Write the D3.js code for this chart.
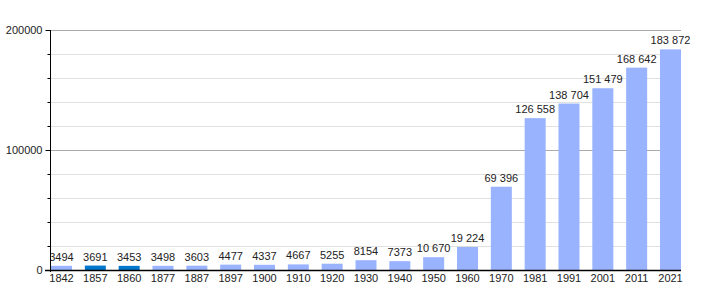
<!DOCTYPE html>
<html><head><meta charset="utf-8">
<script src="https://cdn.jsdelivr.net/npm/d3@7"></script>
<style>body{margin:0;background:#fff}svg{display:block}text{font-family:"Liberation Sans",Arial,sans-serif;font-size:11px;fill:#222}</style>
</head><body>
<script>
const years = ["1842","1857","1860","1877","1887","1897","1900","1910","1920","1930","1940","1950","1960","1970","1981","1991","2001","2011","2021"];
const population = [3494,3691,3453,3498,3603,4477,4337,4667,5255,8154,7373,10670,19224,69396,126558,138704,151479,168642,183872];
const highlighted = ["1857","1860"];
const yMajorTicks = [0,100000,200000];
const yMinorTicks = [20000,40000,60000,80000,120000,140000,160000,180000];

const W=710,H=300;
const m={left:50,right:29,top:30,bottom:30};
const svg=d3.select("body").append("svg").attr("width",W).attr("height",H);
const x=d3.scaleBand().domain(years).range([m.left+1,W-m.right]).paddingInner(0.379).paddingOuter(0);
const y=d3.scaleLinear().domain([0,200000]).range([H-m.bottom,m.top]);

// gridlines
svg.append("g").selectAll("line").data(yMinorTicks).join("line")
 .attr("x1",m.left).attr("x2",W-m.right).attr("y1",d=>y(d)+0.5).attr("y2",d=>y(d)+0.5)
 .attr("stroke","#e0e0e0");
svg.append("g").selectAll("line").data(yMajorTicks.filter(d=>d>0)).join("line")
 .attr("x1",m.left).attr("x2",W-m.right).attr("y1",d=>y(d)+0.5).attr("y2",d=>y(d)+0.5)
 .attr("stroke","#aaaaaa");

// bars
svg.append("g").selectAll("rect").data(years).join("rect")
 .attr("x",d=>x(d)).attr("width",x.bandwidth())
 .attr("y",(d,i)=>y(population[i])).attr("height",(d,i)=>y(0)-y(population[i]))
 .attr("fill",d=>highlighted.includes(d)?"#0077cc":"#99b3ff");

// value labels
const fmt=v=>v<10000?String(v):d3.format(",")(v).replace(/,/g," ");
svg.append("defs").append("clipPath").attr("id","clip").append("rect")
 .attr("x",m.left+1).attr("y",0).attr("width",W).attr("height",H);
svg.append("g").attr("clip-path","url(#clip)").selectAll("text").data(years).join("text")
 .attr("x",d=>x(d)+x.bandwidth()/2).attr("y",(d,i)=>y(population[i])-5)
 .attr("text-anchor","middle").text((d,i)=>fmt(population[i]));

// y axis
const ya=svg.append("g").attr("transform",`translate(${m.left+0.5},0)`);
ya.call(d3.axisLeft(y).tickValues(yMajorTicks).tickSize(5).tickPadding(3).tickFormat(d3.format("d")));
ya.append("g").call(d3.axisLeft(y).tickValues(yMinorTicks).tickSize(3).tickFormat(""));
ya.selectAll(".domain").remove();
ya.selectAll("line").attr("stroke","#000");
ya.selectAll("text").attr("fill","#222").style("font-size","11px").style("font-family",'"Liberation Sans",Arial,sans-serif');
ya.append("line").attr("x1",0).attr("x2",0).attr("y1",m.top).attr("y2",H-m.bottom+2).attr("stroke","#000");

// x axis
const xa=svg.append("g").attr("transform",`translate(0,${H-m.bottom+0.5})`);
xa.call(d3.axisBottom(x).tickSize(0).tickPadding(4));
xa.select(".domain").remove();
xa.append("line").attr("x1",m.left-5).attr("x2",W-m.right).attr("stroke","#000").attr("stroke-width",1.5);
xa.selectAll("text").attr("fill","#222").style("font-size","11px").style("font-family",'"Liberation Sans",Arial,sans-serif');
</script>
</body></html>
